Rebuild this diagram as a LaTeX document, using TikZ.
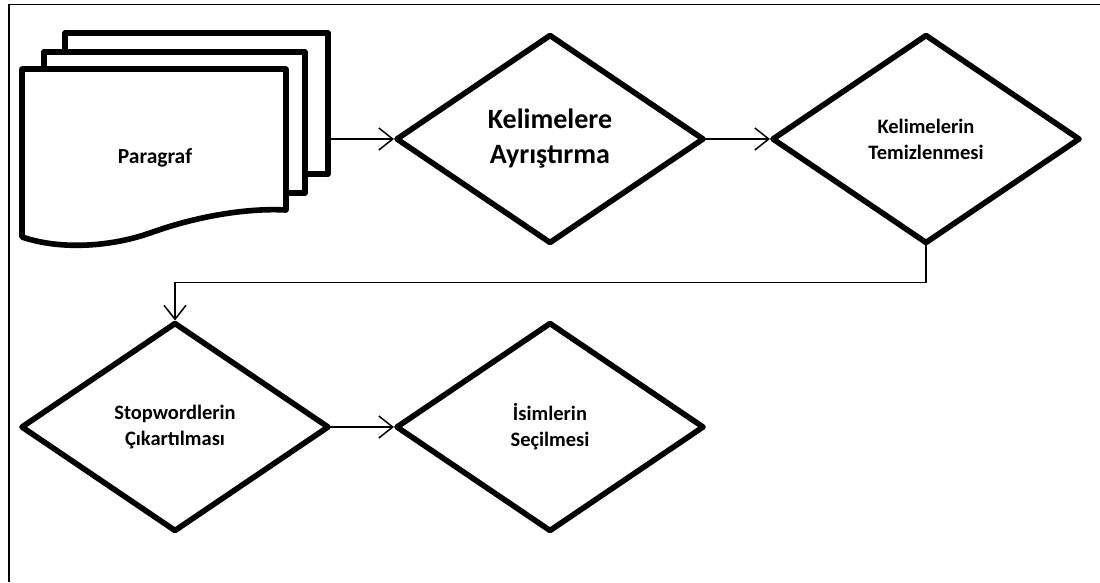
\documentclass[tikz,border=0pt]{standalone}
\usepackage{fontspec}
\setmainfont{Carlito}
\usetikzlibrary{shapes.geometric,arrows.meta}
\begin{document}
\begin{tikzpicture}[x=1pt,y=-1pt,
  thickline/.style={line width=5.6pt,line join=round,line cap=round},
  smalltext/.style={font=\bfseries\fontsize{20.5}{26}\selectfont},
  decision/.style={diamond,draw,thickline,fill=white,
    minimum width=306pt,minimum height=207pt,inner sep=0pt,outer sep=0pt,
    align=center,smalltext},
  flow/.style={line width=1.5pt,shorten >=3pt,
    -{Straight Barb[length=14pt,width=22pt,line width=1.5pt]}},
  page/.style={draw,thickline,fill=white}]
\useasboundingbox (0,0) rectangle (1100,582);
% partial frame along the top and left edges
\draw[line width=1.3pt] (9,582) -- (9,4.5) -- (1100,4.5);

% stacked pages of the paragraph input
\draw[page] (65,33) rectangle (328,174);
\draw[page] (44,52) rectangle (305,193);
\draw[page] (22,69) -- (286,69) -- (286,210)
  .. controls (250,208) and (200,215) .. (150,233)
  .. controls (110,247) and (60,250) .. (22,237) -- cycle;
\node[smalltext,font=\bfseries\fontsize{21.5}{26}\selectfont] (doc) at (155,158) {Paragraf};
\coordinate (docout) at (328,139);

% processing steps
\node[decision,font=\bfseries\fontsize{28}{35}\selectfont] (split) at (550,139) {Kelimelere\\Ayrıştırma};
\node[decision] (clean) at (926,139) {Kelimelerin\\Temizlenmesi};
\node[decision] (stop) at (175,427) {Stopwordlerin\\Çıkartılması};
\node[decision] (noun) at (550,427) {İsimlerin\\Seçilmesi};

% connectors
\draw[flow] (docout) -- (split.west);
\draw[flow] (split.east) -- (clean.west);
\draw[flow] (clean.south) -- ++(0,40) -| (stop.north);
\draw[flow] (stop.east) -- (noun.west);
\end{tikzpicture}
\end{document}
